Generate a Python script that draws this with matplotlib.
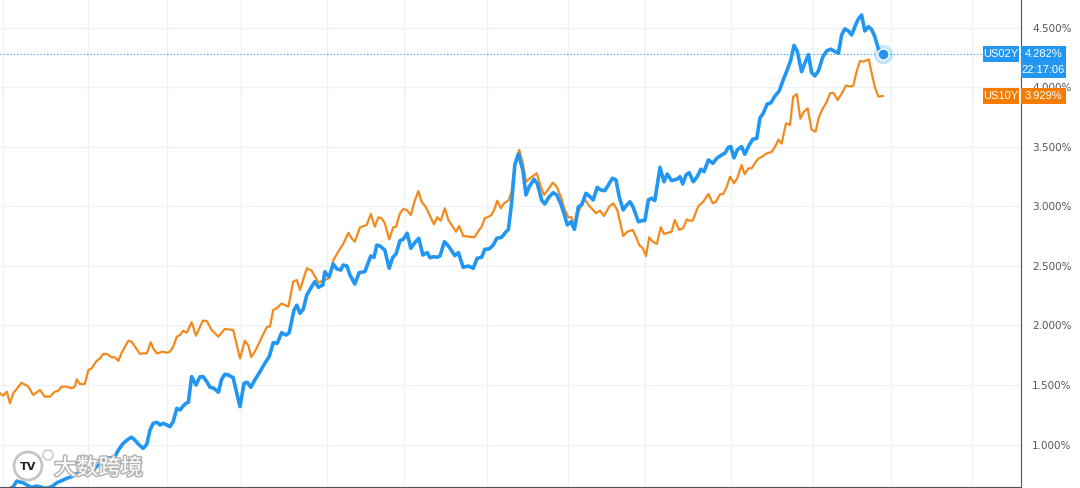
import matplotlib
matplotlib.use("Agg")
import matplotlib.pyplot as plt
from matplotlib.patches import Rectangle, Circle
import matplotlib.patheffects as pe

# bar index (trading days) and yield in percent
us02_t = [0, 2, 3.3, 4.2, 5, 5.8, 6.7, 7.9, 9.2, 10, 11.2, 12.5, 13.3, 14.2, 15.4, 16.7, 17.9, 19.2,
          20.4, 21.7, 22.9, 24.2, 25.4, 26.7, 27.5, 28.7, 29.6, 30.8, 32.1, 32.9, 33.7, 34.8, 35.8,
          36.7, 37.5, 38.3, 39.2, 40, 40.8, 41.7, 42.5, 43.3, 44.2, 45, 45.8, 46.5, 47.1, 47.9, 49,
          50, 50.8, 51.7, 52.5, 53.5, 54.6, 55.4, 56.2, 57.1, 58.3, 59.2, 60, 61, 61.8, 62.7, 63.7,
          65, 66.2, 67.3, 68.3, 69.3, 70.4, 71.5, 72.3, 73.5, 74.2, 75, 75.8, 76.7, 77.9, 78.7, 79.6,
          80.7, 81.2, 81.8, 82.3, 83.3, 84.2, 85.2, 85.8, 86.7, 87.5, 88.7, 89.8, 91.2, 92.7, 93.5,
          94.2, 95, 96.2, 97.3, 98.2, 99, 100, 100.8, 101.8, 102.7, 103.7, 104.7, 105.7, 106.8,
          107.5, 108.5, 109.2, 110, 111.1, 112.1, 112.9, 113.7, 114.6, 115.8, 117.1, 118.3, 119.3,
          120.4, 121.2, 122.3, 123.3, 124.2, 125.4, 126.2, 127.1, 127.9, 128.7, 129.6, 130.7, 131.5,
          132.3, 133.5, 134.3, 135.4, 136.2, 137.3, 138.3, 139.2, 140.2, 141, 141.8, 142.7, 143.6,
          144.6, 145.4, 146.5, 147.5, 148.3, 149.3, 150.2, 151.2, 152.1, 153.1, 154, 154.8, 155.8,
          156.7, 157.5, 158.3, 159.6, 160.4, 161.2, 162.1, 162.9, 163.7, 165, 166, 166.8, 167.9,
          169.2, 170, 170.7, 171.5, 172.3, 173.3, 174.3, 175.2, 176, 177.1, 178.2, 179.2, 180.4,
          181.2, 182.1, 182.7, 183.5, 184.3, 185.4, 186.2, 187.3, 188.2, 189.2, 190, 190.8, 191.8,
          192.7, 193.7, 194.8, 195.8, 196.8, 197.7, 198.5, 199.3, 200.4, 201.2, 202.1, 202.9, 203.7,
          204.6, 205.7, 206.7, 207.7, 208.7, 209.6, 210.4, 211.2, 212.1, 212.9, 214, 214.6, 215.4,
          216.2, 217.1, 217.9, 218.7, 219.6, 220.7]
us02_v = [0.600, 0.620, 0.645, 0.693, 0.685, 0.679, 0.660, 0.640, 0.651, 0.645, 0.632, 0.640, 0.654,
          0.679, 0.696, 0.716, 0.729, 0.758, 0.758, 0.758, 0.766, 0.819, 0.842, 0.889, 0.887, 0.897,
          0.954, 1.010, 1.046, 1.061, 1.038, 0.996, 0.968, 1.002, 1.122, 1.178, 1.187, 1.164, 1.178,
          1.164, 1.150, 1.192, 1.304, 1.290, 1.324, 1.346, 1.355, 1.570, 1.500, 1.570, 1.570, 1.528,
          1.481, 1.472, 1.439, 1.548, 1.590, 1.584, 1.561, 1.430, 1.318, 1.514, 1.523, 1.481, 1.542,
          1.612, 1.682, 1.738, 1.855, 1.850, 1.939, 1.920, 1.939, 2.130, 2.170, 2.103, 2.136, 2.256,
          2.326, 2.368, 2.321, 2.340, 2.452, 2.424, 2.410, 2.517, 2.475, 2.466, 2.508, 2.500, 2.424,
          2.349, 2.444, 2.452, 2.584, 2.573, 2.676, 2.668, 2.634, 2.481, 2.573, 2.601, 2.713, 2.724,
          2.775, 2.649, 2.696, 2.733, 2.592, 2.612, 2.570, 2.578, 2.573, 2.584, 2.704, 2.668, 2.629,
          2.587, 2.612, 2.489, 2.500, 2.481, 2.565, 2.573, 2.640, 2.643, 2.676, 2.733, 2.741, 2.775,
          2.808, 3.027, 3.349, 3.441, 3.307, 3.097, 3.166, 3.229, 3.195, 3.055, 3.021, 3.082, 3.116,
          3.097, 3.021, 2.943, 2.845, 2.872, 2.808, 2.998, 3.013, 3.111, 3.082, 3.055, 3.161, 3.139,
          3.133, 3.181, 3.237, 3.223, 3.082, 2.971, 3.013, 3.040, 2.993, 2.872, 2.881, 2.881, 3.055,
          3.069, 3.049, 3.329, 3.208, 3.273, 3.217, 3.229, 3.250, 3.189, 3.265, 3.284, 3.208, 3.250,
          3.313, 3.292, 3.391, 3.363, 3.405, 3.433, 3.447, 3.497, 3.503, 3.408, 3.475, 3.503, 3.439,
          3.517, 3.565, 3.573, 3.744, 3.783, 3.861, 3.870, 3.926, 3.971, 4.063, 4.147, 4.231, 4.353,
          4.307, 4.133, 4.203, 4.277, 4.126, 4.097, 4.139, 4.256, 4.309, 4.321, 4.303, 4.287, 4.441,
          4.492, 4.475, 4.441, 4.534, 4.576, 4.609, 4.475, 4.511, 4.487, 4.427, 4.324, 4.282]

us10_t = [0, 0.8, 1.7, 2.5, 3.3, 5.4, 7.1, 8.3, 10, 11.2, 12.5, 13.7, 14.6, 15.4, 16.7, 17.9, 18.7,
          19.2, 20, 21.2, 22.1, 22.9, 24.2, 25, 25.8, 26.7, 27.9, 28.7, 29.6, 30.4, 32.1, 32.9, 35,
          35.8, 36.7, 37.7, 38.3, 39.2, 40.8, 41.7, 42.5, 43.3, 44.2, 45, 45.8, 46.7, 47.9, 49, 50.7,
          51.7, 52.9, 54.6, 56.2, 58.3, 60, 61.2, 62.1, 62.8, 63.7, 66.7, 67.5, 68.3, 69.2, 70.4,
          72.1, 73.3, 74.2, 75, 76.7, 77.9, 79.6, 81.2, 82.3, 83.3, 84.5, 85.8, 86.7, 87.1, 87.9,
          88.7, 90, 91.7, 92.7, 93.7, 94.6, 95.4, 96.2, 97.3, 98.3, 99, 100, 100.8, 101.7, 102.7,
          103.7, 104.6, 105.4, 106.5, 107.5, 108.5, 109.3, 110.2, 111.2, 112.1, 113.2, 114, 114.8,
          115.8, 117.1, 118.6, 119.6, 120.4, 121.2, 122.1, 122.9, 123.7, 124.3, 125.2, 126, 127.1,
          127.9, 128.7, 129.8, 130.7, 131.5, 132.5, 134.2, 135.2, 136, 137.1, 138.2, 139.2, 140.2,
          141.2, 142.1, 142.9, 143.7, 144.6, 145.4, 146.2, 147.1, 147.9, 149, 150, 151, 152.3, 153.3,
          154.3, 155, 155.8, 156.8, 158.2, 159, 159.8, 160.7, 161.5, 162.3, 163.2, 164.2, 165.2, 166,
          167.1, 167.9, 168.7, 169.8, 170.8, 171.7, 172.3, 173.2, 173.7, 174.6, 175.8, 177.1, 178.2,
          179, 180, 180.8, 181.7, 182.5, 183.5, 184.3, 185.4, 186.2, 187.1, 187.9, 188.7, 189.6,
          190.4, 191.7, 192.9, 193.7, 194.6, 195.4, 196.5, 197.5, 198.3, 199.2, 200.1, 201, 201.9,
          202.9, 203.9, 204.7, 205.5, 206.7, 207.5, 208.4, 209.4, 210.6, 211.5, 212.5, 213.3, 214.2,
          215, 215.8, 216.6, 217.2, 217.9, 218.7, 219.6, 220.7]
us10_v = [1.430, 1.410, 1.444, 1.346, 1.430, 1.519, 1.486, 1.416, 1.458, 1.402, 1.402, 1.444, 1.452,
          1.486, 1.486, 1.472, 1.486, 1.548, 1.508, 1.508, 1.626, 1.640, 1.704, 1.724, 1.761, 1.761,
          1.733, 1.733, 1.702, 1.771, 1.872, 1.864, 1.761, 1.766, 1.766, 1.859, 1.808, 1.766, 1.780,
          1.771, 1.780, 1.822, 1.906, 1.920, 1.956, 1.939, 2.028, 1.914, 2.040, 2.038, 1.962, 1.906,
          1.971, 1.962, 1.723, 1.872, 1.832, 1.735, 1.780, 1.987, 1.992, 2.130, 2.145, 2.185, 2.158,
          2.368, 2.382, 2.298, 2.481, 2.461, 2.360, 2.382, 2.399, 2.545, 2.618, 2.685, 2.752, 2.780,
          2.733, 2.704, 2.825, 2.845, 2.937, 2.830, 2.909, 2.901, 2.859, 2.724, 2.825, 2.830, 2.943,
          2.979, 2.971, 2.929, 3.049, 3.130, 3.040, 2.993, 2.920, 2.850, 2.909, 2.881, 2.985, 2.887,
          2.830, 2.788, 2.836, 2.752, 2.747, 2.741, 2.794, 2.830, 2.901, 2.914, 2.929, 2.985, 3.049,
          2.985, 3.027, 3.049, 3.124, 3.349, 3.475, 3.363, 3.208, 3.237, 3.279, 3.166, 3.097, 3.145,
          3.200, 3.166, 3.082, 2.971, 2.909, 2.909, 2.817, 2.956, 3.013, 3.061, 3.013, 2.985, 2.943,
          2.965, 2.920, 2.998, 3.027, 2.971, 2.872, 2.752, 2.788, 2.803, 2.746, 2.676, 2.649, 2.584,
          2.741, 2.704, 2.685, 2.825, 2.769, 2.780, 2.788, 2.887, 2.803, 2.819, 2.892, 2.881, 2.881,
          2.929, 3.004, 3.040, 3.105, 3.027, 3.040, 3.103, 3.105, 3.166, 3.250, 3.195, 3.237, 3.349,
          3.271, 3.321, 3.321, 3.363, 3.403, 3.416, 3.447, 3.458, 3.496, 3.561, 3.528, 3.699, 3.685,
          3.923, 3.944, 3.737, 3.797, 3.825, 3.645, 3.629, 3.748, 3.811, 3.881, 3.951, 3.954, 3.895,
          3.958, 4.017, 4.008, 4.013, 4.139, 4.223, 4.217, 4.227, 4.237, 4.122, 4.004, 3.923, 3.929]

month_lines = [0.7, 22, 41.7, 60.2, 81.7, 101, 121.7, 141.9, 161.25, 182.75, 203.25, 222.75, 243.1]
yticks = [1.0, 1.5, 2.0, 2.5, 3.0, 3.5, 4.0, 4.5]
last_time = "22:17:06"

blue = "#2196f3"
orange = "#f28a1e"
orange_tag = "#f57c00"
grid_c = "#eef1f6"

W, H = 1080, 488
fig = plt.figure(figsize=(W / 100, H / 100), dpi=100)
ax = fig.add_axes([0, 1 / H, 1021 / W, 487 / H])
ax.set_xlim(0, 255.25)
ax.set_ylim(0.643, 4.735)

for m in month_lines:
    ax.axvline(m, color=grid_c, lw=1, zorder=0)
for t in yticks:
    ax.axhline(t, color=grid_c, lw=1, zorder=0)

ax.plot(us10_t, us10_v, color=orange, lw=1.6, zorder=3)
ax.plot(us02_t, us02_v, color=blue, lw=2.6, zorder=4)

# last value marker and dotted price line
ax.axhline(us02_v[-1], color=blue, lw=0.8, ls=(0, (1, 2)), zorder=2)
ax.plot(us02_t[-1], us02_v[-1], 'o', ms=14, color=blue, alpha=0.25, mec='none', zorder=5)
ax.plot(us02_t[-1], us02_v[-1], 'o', ms=8, color=blue, mec='white', mew=1, zorder=6)

ax.set_xticks([])
ax.yaxis.tick_right()
ax.set_yticks(yticks)
ax.set_yticklabels([f"{t:.3f}%" for t in yticks])
ax.tick_params(axis='y', length=0, pad=8, labelsize=7.5, labelcolor="#555555")
for s in ["top", "left"]:
    ax.spines[s].set_visible(False)
ax.spines["right"].set_color("#50535e")
ax.spines["bottom"].set_color("#50535e")


def tag(x0, x1, yc, up, down, color):
    fig.add_artist(Rectangle((x0, yc - down), x1 - x0, up + down, transform=None,
                             fc=color, ec="none", zorder=10))


tag_font = dict(color="white", fontsize=8, family=["Liberation Sans", "DejaVu Sans"],
                ha="center", va="center", zorder=11)
fig.canvas.draw()
for name, vals, col, two in [("US02Y", us02_v, blue, True), ("US10Y", us10_v, orange_tag, False)]:
    yc = ax.transData.transform((0, vals[-1]))[1]
    tag(983, 1019, yc, 8, 8, col)
    fig.text(1001 / W, yc / H, name, **tag_font)
    tag(1021, 1066, yc, 8, 24 if two else 8, col)
    fig.text(1043.5 / W, yc / H, f"{vals[-1]:.3f}%", **tag_font)
    if two:
        fig.text(1043.5 / W, (yc - 16) / H, last_time, **tag_font)

# watermark
fig.add_artist(Circle((28, 22), 14, transform=None, fc="white", ec="#c4c4c4", lw=2, zorder=9))
fig.add_artist(Circle((48, 33), 5, transform=None, fc="none", ec="#d6d6d6", lw=1.5, zorder=9))
fig.text(28 / W, 21 / H, "TV", fontsize=8, fontweight="bold", color="#222222",
         ha="center", va="center", zorder=10)
fig.text(54 / W, 20 / H, "大数跨境", family=["Noto Sans CJK SC", "DejaVu Sans"], fontsize=16,
         color="white", ha="left", va="center", zorder=10,
         path_effects=[pe.withStroke(linewidth=2.2, foreground="#b4b4b4")])

fig.savefig("out.png", dpi=100)
